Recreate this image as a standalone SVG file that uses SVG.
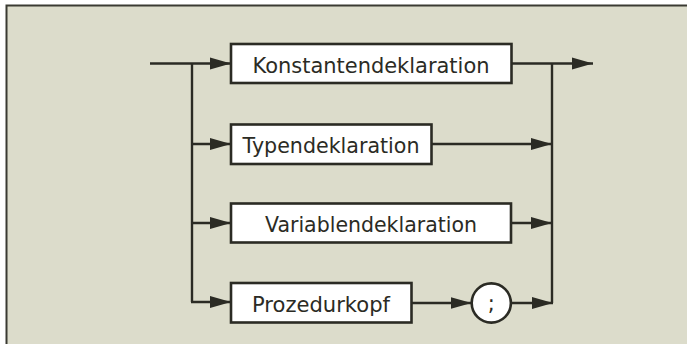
<svg xmlns="http://www.w3.org/2000/svg" width="687" height="344" viewBox="0 0 687 344">
  <defs>
    <marker id="ah" markerUnits="userSpaceOnUse" markerWidth="22" markerHeight="14" refX="21" refY="7" orient="auto" viewBox="0 0 22 14">
      <path d="M0,1 L21,7 L0,13 z" fill="#2b2b24"/>
    </marker>
  </defs>
  <style>
    .bg { fill: #dcdccb; }
    .frame { fill: none; stroke: #3a3a32; stroke-width: 2; }
    .box { fill: #ffffff; stroke: #2b2b24; stroke-width: 2.6; }
    .ln { fill: none; stroke: #2b2b24; stroke-width: 2.4; }
    .arr { fill: none; stroke: #2b2b24; stroke-width: 2.4; marker-end: url(#ah); }
    .lbl { font-family: "DejaVu Sans", "Liberation Sans", sans-serif; font-size: 21px; fill: #2b2b24; text-anchor: middle; }
  </style>
  <rect x="0" y="0" width="687" height="344" fill="#ffffff"/>
  <rect class="bg" x="6" y="5" width="681" height="339"/>
  <path class="frame" d="M6.5,344 V5.5 H687"/>

  <g id="connectors">
    <path class="arr" d="M150,63.5 H231"/>
    <path class="ln" d="M192,63.5 V302"/>
    <path class="arr" d="M191,144 H231"/>
    <path class="arr" d="M191,223 H231"/>
    <path class="arr" d="M191,302 H231"/>
    <path class="arr" d="M511.5,63.5 H593"/>
    <path class="ln" d="M552,63.5 V303"/>
    <path class="arr" d="M431.5,144 H552"/>
    <path class="arr" d="M511,223 H552"/>
    <path class="arr" d="M411.5,303 H471.5"/>
    <path class="arr" d="M511,303 H553"/>
  </g>

  <g id="konstantendeklaration">
    <rect class="box" x="231" y="44" width="280.5" height="39"/>
    <text class="lbl" x="371" y="72.5" textLength="237" lengthAdjust="spacingAndGlyphs">Konstantendeklaration</text>
  </g>
  <g id="typendeklaration">
    <rect class="box" x="231" y="124.5" width="200.5" height="39.5"/>
    <text class="lbl" x="331" y="153" textLength="177" lengthAdjust="spacingAndGlyphs">Typendeklaration</text>
  </g>
  <g id="variablendeklaration">
    <rect class="box" x="231" y="203.5" width="280" height="39"/>
    <text class="lbl" x="371" y="232" textLength="212" lengthAdjust="spacingAndGlyphs">Variablendeklaration</text>
  </g>
  <g id="prozedurkopf">
    <rect class="box" x="231" y="283" width="180.5" height="39.5"/>
    <text class="lbl" x="321" y="311.5" textLength="138" lengthAdjust="spacingAndGlyphs">Prozedurkopf</text>
  </g>
  <g id="semicolon">
    <circle class="box" cx="491.3" cy="303" r="19.6"/>
    <text class="lbl" x="491.3" y="310.5">;</text>
  </g>
</svg>
